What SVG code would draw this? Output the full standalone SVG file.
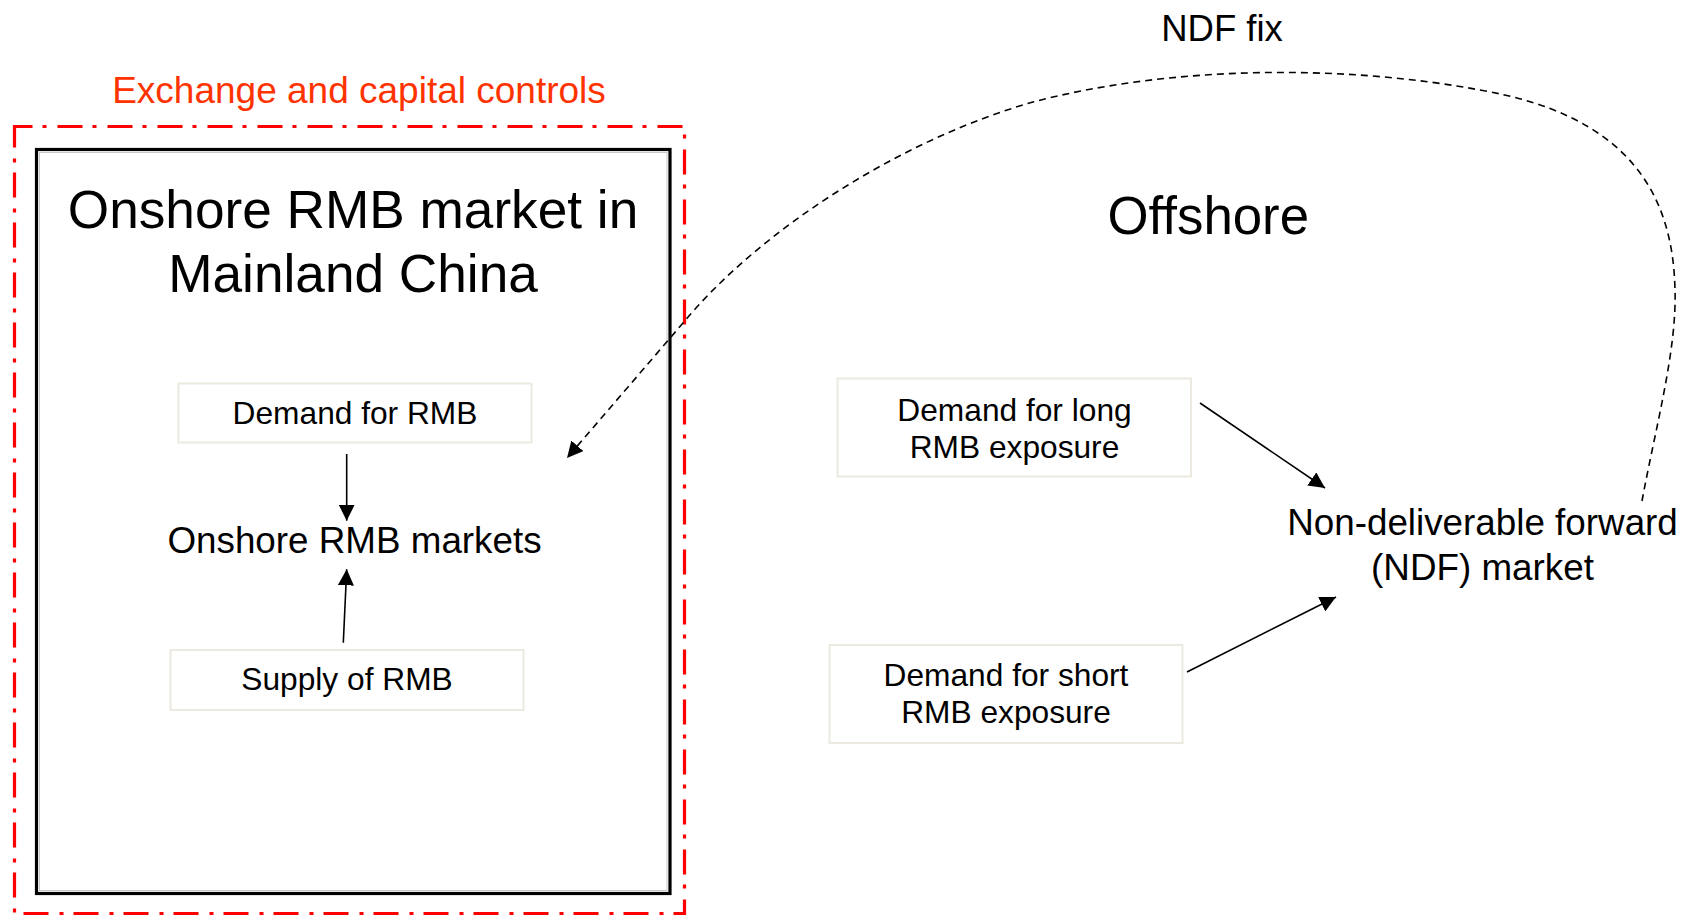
<svg xmlns="http://www.w3.org/2000/svg" width="1685" height="915" viewBox="0 0 1685 915">
  <style>
    text { font-family: "Liberation Sans", Arial, sans-serif; fill: #000; }
    .box { fill: #fff; stroke: #ECEAE0; stroke-width: 2; }
    .lbl { font-size: 31.7px; text-anchor: middle; }
    .big { font-size: 53.2px; text-anchor: middle; }
    .mid { font-size: 36.8px; text-anchor: middle; }
    .conn { fill: none; stroke: #000; stroke-width: 1.6; }
  </style>
  <defs>
    <marker id="ah" markerUnits="userSpaceOnUse" markerWidth="18" markerHeight="16" refX="16" refY="8" orient="auto">
      <path d="M0,0 L16,8 L0,16 z" fill="#000"/>
    </marker>
  </defs>
  <rect width="1685" height="915" fill="#fff"/>

  <g id="controls">
    <rect x="14.5" y="126.5" width="670" height="787" fill="none" stroke="#FF0000" stroke-width="3.2" stroke-dasharray="25 10 4 11" stroke-dashoffset="7"/>
    <text x="359" y="103" font-size="37" text-anchor="middle" style="fill:#FF3300">Exchange and capital controls</text>
  </g>

  <g id="onshore">
    <rect x="36.5" y="149.5" width="633.5" height="744" fill="none" stroke="#000" stroke-width="3.2"/>
    <rect x="39.5" y="152.5" width="627.5" height="738" fill="none" stroke="#BBBBBB" stroke-width="0.8"/>
    <text class="big" x="353" y="228">Onshore RMB market in</text>
    <text class="big" x="353" y="292">Mainland China</text>
  </g>

  <g id="demand-rmb">
    <rect class="box" x="178.5" y="383.5" width="353" height="59"/>
    <text class="lbl" x="355" y="424.3">Demand for RMB</text>
  </g>

  <g id="onshore-markets">
    <text class="mid" x="354.5" y="553">Onshore RMB markets</text>
  </g>

  <g id="supply-rmb">
    <rect class="box" x="170.5" y="650" width="353" height="60"/>
    <text class="lbl" x="347" y="690">Supply of RMB</text>
  </g>

  <g id="offshore">
    <text x="1208.3" y="233.5" font-size="52.8" text-anchor="middle">Offshore</text>
  </g>

  <g id="ndf-fix">
    <text x="1222" y="41" font-size="36.5" text-anchor="middle">NDF fix</text>
  </g>

  <g id="demand-long">
    <rect class="box" x="837.5" y="378.5" width="353.5" height="98"/>
    <text class="lbl" x="1014.5" y="421">Demand for long</text>
    <text class="lbl" x="1014.5" y="458.3">RMB exposure</text>
  </g>

  <g id="demand-short">
    <rect class="box" x="829.5" y="645" width="353" height="98"/>
    <text class="lbl" x="1006" y="686">Demand for short</text>
    <text class="lbl" x="1006" y="723.3">RMB exposure</text>
  </g>

  <g id="ndf-market">
    <text class="mid" x="1482.5" y="535">Non-deliverable forward</text>
    <text class="mid" x="1482.5" y="580">(NDF) market</text>
  </g>

  <g id="connectors">
    <line class="conn" x1="346.7" y1="454" x2="346.7" y2="520.7" marker-end="url(#ah)"/>
    <line class="conn" x1="343.3" y1="642.7" x2="346.7" y2="569.3" marker-end="url(#ah)"/>
    <line class="conn" x1="1200" y1="403" x2="1325" y2="488" marker-end="url(#ah)"/>
    <line class="conn" x1="1187" y1="672" x2="1336" y2="597" marker-end="url(#ah)"/>
    <path class="conn" stroke-width="1.5" stroke-dasharray="7 5" d="M1642,501 C1655,430 1677,350 1675,290 C1673,190 1625,115 1480,90 C1340,64 1170,66 1033,102 C900,140 760,230 683,323 L567,458" marker-end="url(#ah)"/>
  </g>
</svg>
